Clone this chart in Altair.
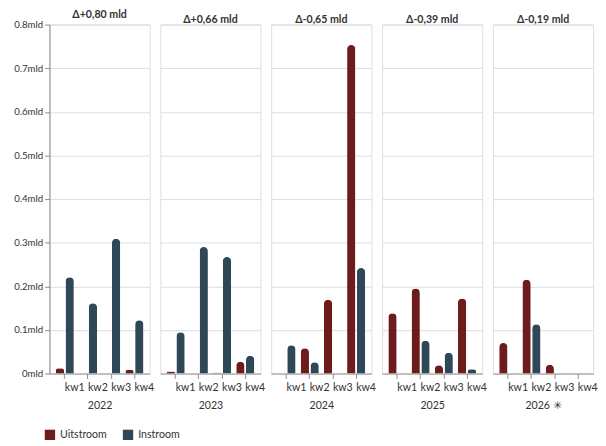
import altair as alt
import pandas as pd

years = ["2022", "2023", "2024", "2025", "2026"]
year_labels = ["2022", "2023", "2024", "2025", "2026 \u2733"]
deltas = ["\u0394+0,80 mld", "\u0394+0,66 mld", "\u0394-0,65 mld", "\u0394-0,39 mld", "\u0394-0,19 mld"]
quarters = ["kw1", "kw2", "kw3", "kw4"]
series = ["Uitstroom", "Instroom"]
uitstroom = [
    [0.012, 0.0, 0.0, 0.008],
    [0.005, 0.0, 0.002, 0.027],
    [0.0, 0.058, 0.169, 0.753],
    [0.138, 0.195, 0.019, 0.172],
    [0.070, 0.215, 0.020, 0.0],
]
instroom = [
    [0.221, 0.161, 0.309, 0.122],
    [0.095, 0.290, 0.267, 0.041],
    [0.065, 0.026, 0.0, 0.242],
    [0.0, 0.075, 0.048, 0.010],
    [0.0, 0.113, 0.0, 0.0],
]
colors = ["#6e1c1b", "#2f4858"]

rows = []
for yi, y in enumerate(years):
    for qi, q in enumerate(quarters):
        rows.append({"jaar": y, "kwartaal": q, "reeks": "Uitstroom", "waarde": uitstroom[yi][qi]})
        rows.append({"jaar": y, "kwartaal": q, "reeks": "Instroom", "waarde": instroom[yi][qi]})
df = pd.DataFrame(rows)

FONT = "Lato"
H = 362
ticks = [0, 0.1, 0.2, 0.3, 0.4, 0.5, 0.6, 0.7, 0.8]
panels = []
for i, y in enumerate(years):
    first = i == 0
    if first:
        yaxis = alt.Axis(
            values=ticks,
            labelExpr="format(datum.value, '.1~f') + 'mld'",
            title=None, grid=True, domain=True, domainColor="#888",
            tickColor="#888", tickSize=5, labelFontSize=10, labelColor="#333",
            labelFont=FONT, labelPadding=2,
        )
    else:
        yaxis = alt.Axis(values=ticks, labels=False, ticks=False, domain=False,
                         title=None, grid=True)
    c = (
        alt.Chart(df)
        .transform_filter(alt.datum.jaar == y)
        .mark_bar(cornerRadiusTopLeft=4.5, cornerRadiusTopRight=4.5)
        .encode(
            x=alt.X(
                "kwartaal:N", sort=quarters,
                scale=alt.Scale(paddingInner=0.22, paddingOuter=0.27),
                axis=alt.Axis(
                    title=year_labels[i], labelAngle=0, labelAlign="left",
                    labelPadding=4, labelFontSize=11, labelColor="#333",
                    labelFont=FONT, titleFont=FONT, titleFontSize=11,
                    titleFontWeight="normal", titleColor="#333", titlePadding=7,
                    domainColor="#999", tickColor="#888", tickSize=5,
                ),
            ),
            xOffset=alt.XOffset("reeks:N", sort=series,
                                scale=alt.Scale(paddingInner=0.15, paddingOuter=0)),
            y=alt.Y("waarde:Q", scale=alt.Scale(domain=[0, 0.8], nice=False), axis=yaxis),
            color=alt.Color(
                "reeks:N", sort=series,
                scale=alt.Scale(domain=series, range=colors),
                legend=alt.Legend(
                    title=None, orient="none", legendX=-5, legendY=H + 58,
                    direction="horizontal",
                    symbolType="square", symbolSize=115, symbolStrokeWidth=0,
                    labelFontSize=11, labelFont=FONT, labelColor="#333",
                    columnPadding=16, labelOffset=5,
                ),
            ),
        )
        .properties(
            width=104, height=H,
            title=alt.TitleParams(deltas[i], fontSize=11, fontWeight="bold",
                                  font=FONT, color="#333", offset=0, anchor="middle"),
        )
    )
    panels.append(c)

chart = (
    alt.hconcat(*panels, spacing=5)
    .resolve_scale(y="shared")
    .configure_view(stroke="#d4d4d4", strokeDash=[3, 3], strokeWidth=1)
    .configure_axis(gridColor="#d9d9d9", gridWidth=1)
    .configure(padding={"left": 5, "top": -8, "right": 0, "bottom": 0})
)

chart.save("out.html", embed_options={"renderer": "svg", "actions": False})
